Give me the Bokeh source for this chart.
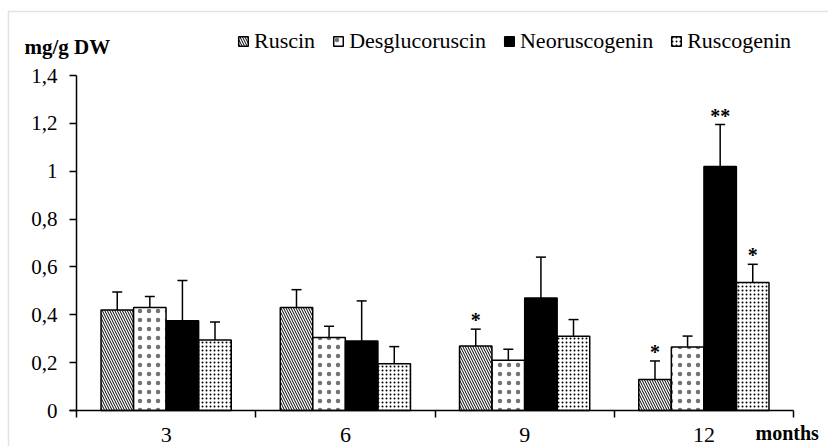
from bokeh.plotting import figure
from bokeh.models import (ColumnDataSource, Range1d, FixedTicker, Whisker, Legend,
                          LegendItem, Label, TeeHead, BoxAnnotation)
from bokeh.transform import dodge
from bokeh.core.properties import value
from bokeh.embed import file_html
from bokeh.resources import INLINE

months = ["3", "6", "9", "12"]
series = ["Ruscin", "Desglucoruscin", "Neoruscogenin", "Ruscogenin"]

ruscin = [0.42, 0.43, 0.27, 0.13]
ruscin_err = [0.075, 0.075, 0.07, 0.077]
ruscin_sig = ["", "", "*", "*"]

desgluco = [0.43, 0.305, 0.21, 0.265]
desgluco_err = [0.046, 0.047, 0.046, 0.046]
desgluco_sig = ["", "", "", ""]

neorusco = [0.375, 0.29, 0.47, 1.02]
neorusco_err = [0.168, 0.168, 0.171, 0.175]
neorusco_sig = ["", "", "", "**"]

rusco = [0.295, 0.195, 0.31, 0.535]
rusco_err = [0.075, 0.072, 0.07, 0.076]
rusco_sig = ["", "", "", "*"]

y_ticks = [0, 0.2, 0.4, 0.6, 0.8, 1, 1.2, 1.4]
y_tick_labels = ["0", "0,2", "0,4", "0,6", "0,8", "1", "1,2", "1,4"]

FONT = "Liberation Serif"

# layout: the frame covers the whole canvas, axes are pinned inside it
W, H = 828, 446
AX_L, AX_R, AX_T, AX_B = 76, 793, 75, 410   # pixel box of the axes
n = len(months)
ymax = 1.4
px_x = (AX_R - AX_L) / n
px_y = (AX_B - AX_T) / ymax
x_range = Range1d(-AX_L / px_x, n + (W - AX_R) / px_x)
y_range = Range1d(-(H - AX_B) / px_y, AX_B / px_y)

p = figure(width=W, height=H, output_backend="svg", toolbar_location=None,
           x_range=x_range, y_range=y_range, min_border=0)
p.xgrid.visible = False
p.ygrid.visible = False
p.outline_line_color = None

# thin grey frame of the original picture
p.add_layout(BoxAnnotation(left=x_range.start + 8 / px_x, top=y_range.end - 11 / px_y,
                           right=x_range.end + 1, bottom=y_range.start - 1,
                           fill_alpha=0, line_color="#a3a3a3", line_width=1.5))

x_centers = [i + 0.5 for i in range(n)]
bar_w = 0.181
offsets = [-0.2727, -0.0909, 0.0909, 0.2727]

styles = [
    dict(fill_color="white", hatch_pattern="\\", hatch_scale=5, hatch_weight=1, hatch_color="black"),
    dict(fill_color="white", hatch_pattern=".", hatch_scale=9, hatch_weight=0.2,
         hatch_color="black", hatch_alpha=0.55),
    dict(fill_color="black"),
    dict(fill_color="white", hatch_pattern=".", hatch_scale=4, hatch_weight=1, hatch_color="black"),
]

data = [(ruscin, ruscin_err, ruscin_sig), (desgluco, desgluco_err, desgluco_sig),
        (neorusco, neorusco_err, neorusco_sig), (rusco, rusco_err, rusco_sig)]

items = []
for name, (vals, errs, sig), off, st in zip(series, data, offsets, styles):
    src = ColumnDataSource(dict(
        x=x_centers, val=vals,
        upper=[v + e for v, e in zip(vals, errs)],
        lower=[v - e for v, e in zip(vals, errs)],
        sig=sig))
    r = p.vbar(x=dodge("x", off), top="val", width=bar_w, source=src,
               line_color="black", line_width=1.5, **st)
    w = Whisker(source=src, base=dodge("x", off), upper="upper", lower="lower",
                line_color="black", line_width=1.5,
                upper_head=TeeHead(size=10, line_color="black", line_width=1.5),
                lower_head=TeeHead(size=10, line_color="black", line_width=1.5))
    p.add_layout(w)
    p.text(x=dodge("x", off), y="upper", text="sig", source=src,
           text_font=value(FONT), text_font_size="20px", text_font_style="bold",
           text_align="center", text_baseline="alphabetic", y_offset=-9,
           text_color="black")
    items.append(LegendItem(label=name, renderers=[r]))

legend = Legend(items=items, orientation="horizontal", location=(237, 392),
                label_text_font=FONT, label_text_font_size="22px",
                label_text_color="black", label_height=22,
                glyph_width=12, glyph_height=12, label_standoff=5, spacing=17,
                padding=0, margin=0, border_line_color=None,
                background_fill_alpha=0)
p.add_layout(legend)

# y axis
ya = p.yaxis[0]
ya.fixed_location = 0
ya.ticker = FixedTicker(ticks=y_ticks)
ya.bounds = (-7 / px_y, ymax)
ya.major_label_overrides = {t: l for t, l in zip(y_ticks, y_tick_labels)}
ya.major_tick_out = 7
ya.major_tick_in = 0
ya.minor_tick_out = 0
ya.minor_tick_in = 0
ya.axis_line_color = "black"
ya.axis_line_width = 1.5
ya.major_tick_line_color = "black"
ya.major_tick_line_width = 1.5
ya.major_label_standoff = 12
ya.major_label_text_font = FONT
ya.major_label_text_font_size = "21px"
ya.major_label_text_color = "black"

# x axis
xa = p.xaxis[0]
xa.fixed_location = 0
xa.ticker = FixedTicker(ticks=x_centers, minor_ticks=[i + 1 for i in range(n)])
xa.bounds = (-7 / px_x, n)
xa.major_label_overrides = {c: m for c, m in zip(x_centers, months)}
xa.major_tick_out = 0
xa.major_tick_in = 0
xa.minor_tick_out = 7
xa.minor_tick_in = 0
xa.minor_tick_line_color = "black"
xa.minor_tick_line_width = 1.5
xa.axis_line_color = "black"
xa.axis_line_width = 1.5
xa.major_label_standoff = 10
xa.major_label_text_font = FONT
xa.major_label_text_font_size = "22px"
xa.major_label_text_color = "black"

p.add_layout(Label(x=-52 / px_x, y=(AX_B - 46) / px_y, text="mg/g DW",
                   text_font=FONT, text_font_size="21px", text_font_style="bold",
                   text_color="black", text_baseline="alphabetic"))
p.add_layout(Label(x=(755 - AX_L) / px_x, y=(AX_B - 432) / px_y, text="months",
                   text_font=FONT, text_font_size="20px", text_font_style="bold",
                   text_color="black", text_baseline="alphabetic"))

open("out.html", "w").write(file_html(p, INLINE))
